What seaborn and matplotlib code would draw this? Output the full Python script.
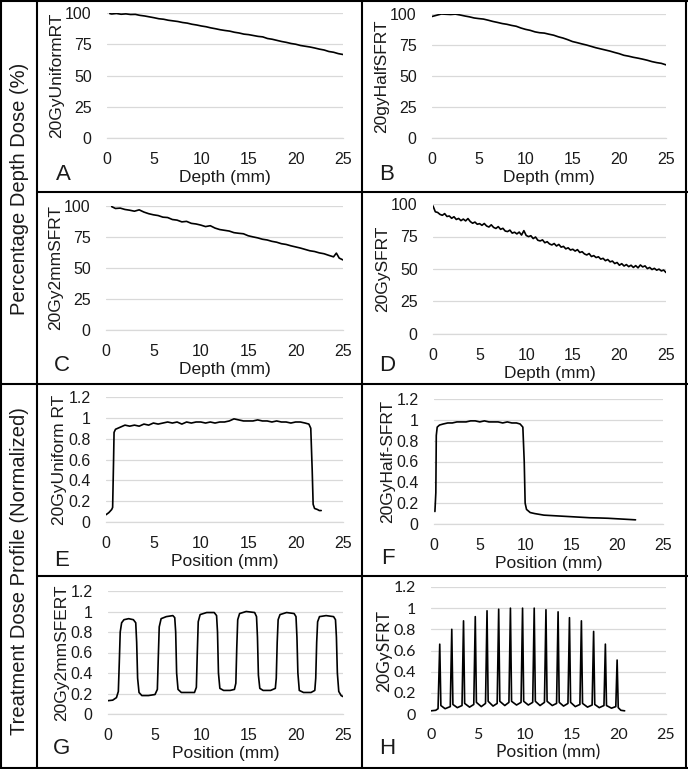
import matplotlib
matplotlib.use("Agg")
import matplotlib.pyplot as plt
import seaborn as sns
from matplotlib.lines import Line2D

# ------------------------------
# Data
# ------------------------------

# A: 20GyUniformRT depth dose
a_depth = [0.3, 0.5, 1.0, 1.5, 2.0, 2.5, 3.0, 3.5, 4.0, 4.5, 5.0, 5.5, 6.0, 6.5, 7.0, 7.5, 8.0,
           8.5, 9.0, 9.5, 10.0, 10.5, 11.0, 11.5, 12.0, 12.5, 13.0, 13.5, 14.0, 14.5, 15.0, 15.5,
           16.0, 16.5, 17.0, 17.5, 18.0, 18.5, 19.0, 19.5, 20.0, 20.5, 21.0, 21.5, 22.0, 22.5,
           23.0, 23.5, 24.0, 24.5, 25.0]
a_dose = [99.5, 99.2, 99.6, 99.0, 99.3, 98.8, 98.9, 98.1, 97.6, 96.9, 96.2, 95.4, 95.0, 94.2,
          93.7, 93.2, 92.4, 91.9, 91.0, 90.4, 89.6, 89.0, 88.1, 87.4, 86.6, 86.0, 85.5, 84.6,
          84.0, 83.1, 82.7, 82.0, 81.3, 80.9, 79.6, 79.0, 78.1, 77.2, 76.5, 75.6, 75.0, 74.0,
          73.4, 72.8, 72.0, 71.1, 70.4, 69.2, 68.6, 67.5, 66.8]

# B: 20gyHalfSFRT depth dose
b_depth = [0.0, 0.5, 1.0, 1.5, 2.0, 2.5, 3.0, 3.5, 4.0, 4.5, 5.0, 5.5, 6.0, 6.5, 7.0, 7.5, 8.0,
           8.5, 9.0, 9.5, 10.0, 10.5, 11.0, 11.5, 12.0, 12.5, 13.0, 13.5, 14.0, 14.5, 15.0, 15.5,
           16.0, 16.5, 17.0, 17.5, 18.0, 18.5, 19.0, 19.5, 20.0, 20.5, 21.0, 21.5, 22.0, 22.5,
           23.0, 23.5, 24.0, 24.5, 25.0]
b_dose = [98.0, 99.0, 100.0, 99.8, 99.6, 99.9, 99.2, 98.4, 97.7, 96.8, 96.3, 95.9, 95.0, 94.0,
          93.2, 92.3, 91.7, 90.8, 90.1, 88.7, 87.6, 86.8, 85.6, 84.9, 84.6, 83.7, 82.9, 81.6,
          80.6, 79.3, 77.8, 76.9, 75.9, 75.0, 73.9, 72.8, 71.9, 71.0, 70.1, 69.0, 68.0, 66.7,
          66.0, 65.1, 64.4, 63.6, 62.7, 61.6, 60.8, 60.2, 59.0]

# C: 20Gy2mmSFRT depth dose
c_depth = [0.6, 1.0, 1.5, 2.0, 2.5, 3.0, 3.5, 4.0, 4.5, 5.0, 5.5, 6.0, 6.5, 7.0, 7.5, 8.0, 8.5,
           9.0, 9.5, 10.0, 10.5, 11.0, 11.5, 12.0, 12.5, 13.0, 13.5, 14.0, 14.5, 15.0, 15.5,
           16.0, 16.5, 17.0, 17.5, 18.0, 18.5, 19.0, 19.5, 20.0, 20.5, 21.0, 21.5, 22.0, 22.5,
           23.0, 23.5, 24.0, 24.3, 24.6, 25.0]
c_dose = [99.5, 98.0, 98.3, 97.2, 96.6, 95.8, 96.9, 95.1, 93.8, 92.9, 92.3, 91.0, 90.7, 89.1,
          88.6, 87.2, 87.6, 86.0, 85.5, 84.6, 83.4, 84.1, 82.2, 81.0, 80.4, 79.8, 78.5, 78.0,
          77.6, 76.0, 75.1, 74.3, 73.2, 72.6, 71.5, 70.8, 69.6, 69.0, 67.9, 67.0, 66.1, 65.0,
          63.9, 63.3, 62.2, 61.5, 60.2, 59.0, 62.0, 58.0, 56.5]

# D: 20GySFRT depth dose
d_depth = [0.0, 0.25, 0.5, 0.75, 1.0, 1.25, 1.5, 1.75, 2.0, 2.25, 2.5, 2.75, 3.0, 3.25, 3.5,
           3.75, 4.0, 4.25, 4.5, 4.75, 5.0, 5.25, 5.5, 5.75, 6.0, 6.25, 6.5, 6.75, 7.0, 7.25,
           7.5, 7.75, 8.0, 8.25, 8.5, 8.75, 9.0, 9.25, 9.5, 9.75, 10.0, 10.25, 10.5, 10.75,
           11.0, 11.25, 11.5, 11.75, 12.0, 12.25, 12.5, 12.75, 13.0, 13.25, 13.5, 13.75, 14.0,
           14.25, 14.5, 14.75, 15.0, 15.25, 15.5, 15.75, 16.0, 16.25, 16.5, 16.75, 17.0, 17.25,
           17.5, 17.75, 18.0, 18.25, 18.5, 18.75, 19.0, 19.25, 19.5, 19.75, 20.0, 20.25, 20.5,
           20.75, 21.0, 21.25, 21.5, 21.75, 22.0, 22.25, 22.5, 22.75, 23.0, 23.25, 23.5, 23.75,
           24.0, 24.25, 24.5, 24.75, 25.0]
d_dose = [98.5, 94.0, 93.5, 92.0, 91.3, 92.6, 90.4, 90.8, 89.0, 90.2, 88.1, 88.9, 87.2, 88.4,
          87.0, 88.8, 86.5, 85.2, 86.1, 84.4, 84.9, 83.6, 85.0, 83.1, 82.3, 84.0, 82.0, 81.2,
          82.6, 80.5, 81.3, 79.2, 78.8, 79.9, 77.6, 78.3, 77.0, 78.4, 76.1, 79.5, 75.8, 74.9,
          75.6, 73.4, 74.6, 72.1, 71.6, 72.4, 70.2, 71.0, 69.3, 68.5, 69.6, 67.7, 68.9, 66.8,
          67.4, 65.5, 66.3, 64.6, 65.2, 63.8, 64.9, 62.7, 63.3, 61.6, 60.8, 61.9, 59.6, 60.3,
          58.8, 59.4, 57.6, 58.2, 56.4, 57.3, 55.5, 56.1, 54.2, 55.0, 52.9, 54.1, 52.3, 53.4,
          51.8, 52.9, 51.2, 52.6, 50.9, 53.1, 51.6, 52.4, 50.3, 51.2, 49.6, 50.5, 49.1, 49.9,
          48.5, 49.2, 47.3]

# E: 20GyUniform RT profile
e_pos = [0.0, 0.3, 0.6, 0.7, 0.8, 0.85, 1.0, 1.5, 2.0, 2.5, 3.0, 3.5, 4.0, 4.5, 5.0, 5.5, 6.0,
         6.5, 7.0, 7.5, 8.0, 8.5, 9.0, 9.5, 10.0, 10.5, 11.0, 11.5, 12.0, 12.5, 13.0, 13.5,
         14.0, 14.5, 15.0, 15.5, 16.0, 16.5, 17.0, 17.5, 18.0, 18.5, 19.0, 19.5, 20.0, 20.5,
         21.0, 21.4, 21.6, 21.75, 21.85, 22.0, 22.3, 22.5, 22.7]
e_val = [0.07, 0.09, 0.12, 0.14, 0.60, 0.86, 0.89, 0.91, 0.93, 0.92, 0.93, 0.92, 0.94, 0.93,
         0.95, 0.94, 0.95, 0.96, 0.95, 0.96, 0.94, 0.96, 0.95, 0.96, 0.96, 0.95, 0.96, 0.95,
         0.96, 0.96, 0.97, 0.99, 0.98, 0.97, 0.97, 0.97, 0.98, 0.97, 0.97, 0.96, 0.97, 0.96,
         0.96, 0.95, 0.96, 0.96, 0.95, 0.94, 0.90, 0.50, 0.17, 0.13, 0.12, 0.11, 0.11]

# F: 20GyHalf-SFRT profile
f_pos = [0.1, 0.2, 0.25, 0.35, 0.6, 1.0, 1.5, 2.0, 2.5, 3.0, 3.5, 4.0, 4.5, 5.0, 5.5, 6.0, 6.5,
         7.0, 7.5, 8.0, 8.5, 9.0, 9.4, 9.7, 9.85, 9.95, 10.1, 10.5, 11.0, 12.0, 13.0, 14.0,
         15.0, 16.0, 17.0, 18.0, 19.0, 20.0, 21.0, 22.0]
f_val = [0.12, 0.30, 0.85, 0.93, 0.95, 0.96, 0.97, 0.97, 0.98, 0.98, 0.98, 0.99, 0.99, 0.98,
         0.99, 0.98, 0.98, 0.98, 0.97, 0.98, 0.97, 0.97, 0.96, 0.93, 0.60, 0.20, 0.14, 0.11,
         0.10, 0.085, 0.08, 0.075, 0.07, 0.065, 0.06, 0.058, 0.055, 0.05, 0.045, 0.04]

# G: 20Gy2mmSFERT profile
g_pos = [0.0, 0.5, 0.9, 1.1, 1.2, 1.3, 1.45, 1.7, 2.2, 2.7, 2.95, 3.05, 3.15, 3.3, 3.6, 4.3,
         5.0, 5.25, 5.35, 5.45, 5.65, 6.2, 6.9, 7.1, 7.2, 7.3, 7.45, 7.8, 8.6, 9.2, 9.4, 9.5,
         9.6, 9.8, 10.5, 11.3, 11.55, 11.65, 11.75, 11.9, 12.3, 13.0, 13.45, 13.6, 13.7, 13.8,
         14.0, 14.7, 15.6, 15.8, 15.9, 16.0, 16.15, 16.5, 17.3, 17.8, 17.9, 18.0, 18.1, 18.3,
         19.0, 19.8, 20.0, 20.1, 20.2, 20.35, 20.8, 21.6, 22.0, 22.1, 22.2, 22.3, 22.5, 23.2,
         24.0, 24.2, 24.3, 24.4, 24.55, 24.8, 25.0]
g_val = [0.13, 0.135, 0.16, 0.22, 0.50, 0.80, 0.89, 0.92, 0.93, 0.92, 0.89, 0.70, 0.35, 0.21,
         0.18, 0.18, 0.19, 0.24, 0.55, 0.85, 0.93, 0.95, 0.96, 0.94, 0.80, 0.40, 0.24, 0.21,
         0.21, 0.21, 0.26, 0.60, 0.90, 0.97, 0.99, 0.99, 0.96, 0.80, 0.40, 0.25, 0.23, 0.23,
         0.24, 0.30, 0.65, 0.92, 0.98, 1.00, 0.99, 0.95, 0.75, 0.38, 0.25, 0.23, 0.23, 0.25,
         0.35, 0.70, 0.92, 0.97, 0.99, 0.98, 0.95, 0.75, 0.40, 0.23, 0.21, 0.21, 0.23, 0.35,
         0.70, 0.90, 0.95, 0.96, 0.95, 0.92, 0.75, 0.40, 0.22, 0.18, 0.17]

# H: 20GySFRT profile (16 narrow peaks)
h_pos = [0.0, 0.5, 0.75, 0.93, 1.05, 1.5, 2.05, 2.21, 2.33, 2.8, 3.3, 3.46, 3.58, 4.1, 4.55,
         4.71, 4.83, 5.35, 5.8, 5.96, 6.08, 6.6, 7.04, 7.2, 7.32, 7.85, 8.29, 8.45, 8.57, 9.1,
         9.58, 9.74, 9.86, 10.35, 10.82, 10.98, 11.1, 11.6, 12.07, 12.23, 12.35, 12.9, 13.36,
         13.52, 13.64, 14.1, 14.57, 14.73, 14.85, 15.35, 15.84, 16.0, 16.12, 16.65, 17.14,
         17.3, 17.42, 17.9, 18.4, 18.55, 18.67, 19.2, 19.66, 19.8, 19.92, 20.2, 20.6]
h_val = [0.03, 0.035, 0.05, 0.66, 0.08, 0.05, 0.07, 0.80, 0.09, 0.06, 0.08, 0.88, 0.10, 0.065,
         0.09, 0.92, 0.11, 0.07, 0.10, 0.975, 0.12, 0.075, 0.10, 0.99, 0.12, 0.08, 0.11, 1.00,
         0.12, 0.085, 0.11, 1.00, 0.12, 0.085, 0.11, 1.00, 0.12, 0.08, 0.11, 0.985, 0.12, 0.08,
         0.10, 0.965, 0.11, 0.075, 0.10, 0.91, 0.11, 0.07, 0.09, 0.88, 0.10, 0.065, 0.085,
         0.78, 0.09, 0.06, 0.08, 0.66, 0.08, 0.055, 0.07, 0.51, 0.06, 0.035, 0.03]

FIG_W, FIG_H = 688, 769


def fx(x):
    return x / FIG_W


def fy(y):
    return 1 - y / FIG_H


sns.set_theme(style="white")
plt.rcParams['font.family'] = ['Liberation Sans', 'DejaVu Sans']

fig = plt.figure(figsize=(FIG_W / 100, FIG_H / 100), dpi=100)

# panels: (x, y, label, letter, box in px: left, right, top, bottom, kind, font)
panels = [
    (a_depth, a_dose, "20GyUniformRT", "A", (107, 343, 13, 138), "pdd", "Liberation Sans", (63, 175)),
    (b_depth, b_dose, "20gyHalfSFRT", "B", (432, 666, 14, 138), "pdd", "Liberation Sans", (387, 175)),
    (c_depth, c_dose, "20Gy2mmSFRT", "C", (106, 343, 206, 330), "pdd", "Liberation Sans", (62, 365)),
    (d_depth, d_dose, "20GySFRT", "D", (433, 666, 204, 334), "pdd", "Liberation Sans", (387, 365)),
    (e_pos, e_val, "20GyUniform RT", "E", (106, 343, 397, 522), "prof", "Liberation Sans", (62, 560)),
    (f_pos, f_val, "20GyHalf-SFRT", "F", (434, 663, 399, 524), "prof", "Liberation Sans", (388, 558)),
    (g_pos, g_val, "20Gy2mmSFERT", "G", (108, 343, 591, 714), "prof", "Liberation Sans", (62, 749)),
    (h_pos, h_val, "20GySFRT", "H", (431, 666, 587, 714), "prof", "Lato", (387, 749)),
]

grid_col = "#d9d9d9"
txt_col = "#1a1a1a"

for xs, ys, ylab, letter, box, kind, font, lpos in panels:
    l, r, t, b = box
    ax = fig.add_axes([fx(l), fy(b), fx(r) - fx(l), fy(t) - fy(b)])
    sns.lineplot(x=xs, y=ys, ax=ax, color="black", linewidth=1.2, estimator=None)
    ax.set_xlim(0, 25)
    ax.set_xticks([0, 5, 10, 15, 20, 25])
    if kind == "pdd":
        ax.set_ylim(0, 100)
        ax.set_yticks([0, 25, 50, 75, 100])
        ax.set_yticklabels(["0", "25", "50", "75", "100"])
        xlab = "Depth (mm)"
    else:
        ax.set_ylim(0, 1.2)
        ax.set_yticks([0, 0.2, 0.4, 0.6, 0.8, 1.0, 1.2])
        ax.set_yticklabels(["0", "0.2", "0.4", "0.6", "0.8", "1", "1.2"])
        xlab = "Position (mm)"
    ax.yaxis.grid(True, color=grid_col, linewidth=0.9)
    ax.set_axisbelow(True)
    for s in ["top", "right", "left"]:
        ax.spines[s].set_visible(False)
    ax.spines["bottom"].set_color(grid_col)
    ax.spines["bottom"].set_linewidth(0.9)
    ax.tick_params(axis="both", length=0, labelsize=11.5, colors=txt_col)
    ax.tick_params(axis="x", pad=10)
    ax.tick_params(axis="y", pad=11)
    for lab in ax.get_xticklabels() + ax.get_yticklabels():
        lab.set_family([font, "DejaVu Sans"])
    ax.set_xlabel(xlab, fontsize=12.5, color=txt_col, labelpad=2, family=[font, "DejaVu Sans"])
    ax.set_ylabel(ylab, fontsize=12.5, color=txt_col, labelpad=1, family=[font, "DejaVu Sans"])
    fig.text(fx(lpos[0]), fy(lpos[1]), letter, fontsize=16, color=txt_col,
             ha="center", va="center")

# big row labels on the left
fig.text(fx(20), fy(189), "Percentage Depth Dose (%)", rotation=90, fontsize=14.5,
         color=txt_col, ha="center", va="center")
fig.text(fx(20), fy(571), "Treatment Dose Profile (Normalized)", rotation=90, fontsize=14.5,
         color=txt_col, ha="center", va="center")

# cell borders
def hline(y, x0, x1):
    fig.add_artist(Line2D([fx(x0), fx(x1)], [fy(y), fy(y)], color="black", linewidth=1.5))


def vline(x, y0, y1):
    fig.add_artist(Line2D([fx(x), fx(x)], [fy(y0), fy(y1)], color="black", linewidth=1.5))


hline(1, 0, 688)
hline(768, 0, 688)
hline(192, 37, 688)
hline(383.5, 0, 688)
hline(575.5, 37, 688)
vline(1, 0, 769)
vline(37, 0, 769)
vline(362, 0, 769)
vline(686, 0, 769)

fig.savefig("out.png", dpi=100)
